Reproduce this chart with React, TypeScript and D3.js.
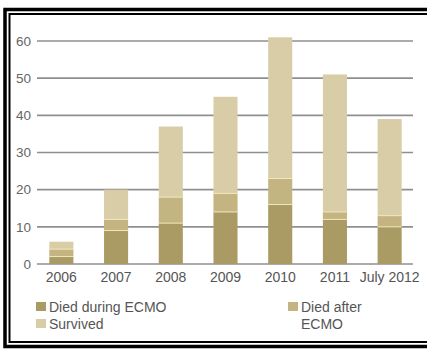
import React from "react";
import * as d3 from "d3";

const categories = ["2006", "2007", "2008", "2009", "2010", "2011", "July 2012"];
const diedDuring = [2, 9, 11, 14, 16, 12, 10];
const diedAfter = [2, 3, 7, 5, 7, 2, 3];
const survived = [2, 8, 19, 26, 38, 37, 26];
const yTicks = [0, 10, 20, 30, 40, 50, 60];

const seriesKeys = ["during", "after", "survived"] as const;
const seriesColors: Record<string, string> = {
  during: "#a99b63",
  after: "#c3b481",
  survived: "#d9cda8",
};

const W = 427;
const H = 350;
const FONT = "'Liberation Sans', Arial, sans-serif";

export default function App() {
  const rows = categories.map((c, i) => ({
    cat: c,
    during: diedDuring[i],
    after: diedAfter[i],
    survived: survived[i],
  }));

  const x = d3
    .scaleBand<string>()
    .domain(categories)
    .range([34, 417])
    .paddingInner(0.56)
    .paddingOuter(0.28);
  const y = d3.scaleLinear().domain([0, 60]).range([264, 41]);

  const stack = d3.stack<any>().keys(seriesKeys as unknown as string[]);
  const layers = stack(rows);

  return (
    <svg
      width={W}
      height={H}
      style={{ position: "absolute", left: 0, top: 0, background: "#fff" }}
    >
      <rect x={0} y={0} width={W} height={H} fill="#fff" />
      {/* double frame */}
      <rect x={5} y={9.5} width={430} height={337} fill="none" stroke="#000" strokeWidth={3.5} />
      <rect x={9.5} y={14} width={425} height={328} fill="none" stroke="#000" strokeWidth={2} />

      {/* gridlines and y labels */}
      {yTicks.map((t) => (
        <g key={t}>
          <line x1={37} x2={413} y1={y(t)} y2={y(t)} stroke="#8f8f8f" strokeWidth={1.6} />
          <text
            x={31}
            y={y(t)}
            dy="0.35em"
            textAnchor="end"
            fontFamily={FONT}
            fontSize={13.5}
            fill="#666"
          >
            {t}
          </text>
        </g>
      ))}

      {/* stacked bars */}
      {layers.map((layer) => (
        <g key={layer.key} fill={seriesColors[layer.key]}>
          {layer.map((d, i) => (
            <rect
              key={i}
              x={x(categories[i])}
              width={x.bandwidth()}
              y={y(d[1])}
              height={y(d[0]) - y(d[1])}
            />
          ))}
        </g>
      ))}
      {/* pale separators between segments */}
      {layers.slice(0, 2).map((layer) =>
        layer.map((d, i) => (
          <line
            key={layer.key + i}
            x1={x(categories[i])}
            x2={(x(categories[i]) as number) + x.bandwidth()}
            y1={y(d[1])}
            y2={y(d[1])}
            stroke="#f1e7b8"
            strokeWidth={1}
          />
        ))
      )}

      {/* x labels */}
      {categories.map((c) => (
        <text
          key={c}
          x={(x(c) as number) + x.bandwidth() / 2}
          y={282}
          textAnchor="middle"
          fontFamily={FONT}
          fontSize={14}
          fill="#555"
        >
          {c}
        </text>
      ))}

      {/* legend */}
      <g fontFamily={FONT} fontSize={14} fill="#555">
        <rect x={36} y={302} width={10} height={9} fill={seriesColors.during} />
        <text x={49} y={311.5}>Died during ECMO</text>
        <rect x={36} y={319} width={10} height={9} fill={seriesColors.survived} />
        <text x={49} y={328.5}>Survived</text>
        <rect x={288} y={302} width={10} height={9} fill={seriesColors.after} />
        <text x={301} y={311.5}>Died after</text>
        <text x={301} y={328.5}>ECMO</text>
      </g>
    </svg>
  );
}
